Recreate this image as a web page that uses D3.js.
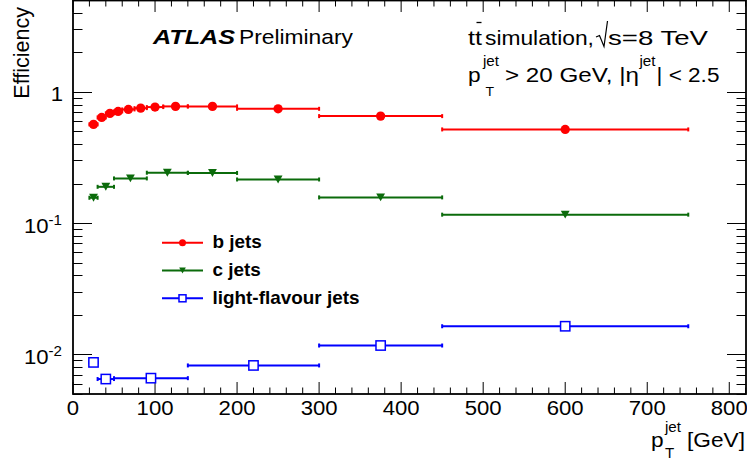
<html>
<head>
<meta charset="UTF-8">
<title>Tagging efficiency</title>
<style>
  body { margin: 0; background: #fff; }
  text { font-family: "Liberation Sans", Arial, Helvetica, sans-serif; fill: #000; }
</style>
</head>
<body>
<div id="chart"></div>
<script src="https://cdnjs.cloudflare.com/ajax/libs/d3/7.8.5/d3.min.js"></script>
<script>
// bin edges (GeV) and efficiencies
var bEdges = [20, 30, 40, 50, 60, 75, 90, 110, 140, 200, 300, 450, 750];
var bEff   = [0.565, 0.638, 0.685, 0.709, 0.734, 0.751, 0.765, 0.774, 0.774, 0.742, 0.653, 0.517];

var cEdges = [20, 30, 50, 90, 140, 200, 300, 450, 750];
var cEff   = [0.156, 0.189, 0.219, 0.242, 0.241, 0.215, 0.157, 0.116];

var lEdges = [20, 30, 50, 140, 300, 450, 750];
var lEff   = [0.0087, 0.0065, 0.0066, 0.00825, 0.0117, 0.0164];

var xTicks = [0, 100, 200, 300, 400, 500, 600, 700, 800];
var yTicks = [1, 0.1, 0.01];
var yTickLabels = [["1", ""], ["10", "-1"], ["10", "-2"]];

var legendNames = ["b jets", "c jets", "light-flavour jets"];

var W = 747, H = 463;
var sx = 1.08; // the picture is a little wider than tall

var svg = d3.select("#chart").append("svg")
    .attr("width", W)
    .attr("height", H);

var x = d3.scaleLinear().domain([0, 821.6]).range([73, 747]);
var y = d3.scaleLog().domain([0.005, 5]).range([394, 0]);

function txt(g, px, py, s, size, anchor) {
    return g.append("text")
        .attr("transform", "translate(" + px + "," + py + ") scale(" + sx + ",1)")
        .attr("text-anchor", anchor || "start")
        .style("font-size", size + "px")
        .text(s);
}

// text stretched sideways to the width seen in the picture
function txtFit(g, px, py, s, size, width) {
    var t = g.append("text")
        .attr("x", 0).attr("y", 0)
        .style("font-size", size + "px")
        .text(s);
    var len = t.node().getComputedTextLength();
    t.attr("transform", "translate(" + px + "," + py + ") scale(" + (width / len) + ",1)");
    return t;
}

function bins(edges, vals) {
    return vals.map(function(v, i) {
        return { lo: edges[i], hi: edges[i + 1], mid: (edges[i] + edges[i + 1]) / 2, v: v };
    });
}

// ticks
var tk = svg.append("g").attr("stroke", "#000").attr("stroke-width", 1);
d3.range(0, 821, 20).forEach(function(v) {
    var len = v % 100 == 0 ? 12 : 6.5;
    tk.append("line").attr("x1", x(v)).attr("x2", x(v)).attr("y1", 394).attr("y2", 394 - len);
    tk.append("line").attr("x1", x(v)).attr("x2", x(v)).attr("y1", 0).attr("y2", len);
});
[0.001, 0.01, 0.1, 1].forEach(function(dec) {
    for (var m = 1; m <= 9; m++) {
        var v = dec * m;
        if (v < 0.005 || v > 5) continue;
        var len = m == 1 ? 19 : 9.5;
        var yy = Math.round(y(v)) + 0.5;
        tk.append("line").attr("x1", 73).attr("x2", 73 + len).attr("y1", yy).attr("y2", yy);
        tk.append("line").attr("x1", 746).attr("x2", 746 - len).attr("y1", yy).attr("y2", yy);
    }
});

// frame
svg.append("rect")
    .attr("x", 73).attr("y", 0.5)
    .attr("width", 673).attr("height", 393.5)
    .attr("fill", "none")
    .attr("stroke", "#000")
    .attr("stroke-width", 1.8);

// tick labels
xTicks.forEach(function(v) {
    txt(svg, x(v), 415, String(v), 20.5, "middle");
});
yTicks.forEach(function(v, i) {
    var t = svg.append("text")
        .attr("transform", "translate(" + (i == 0 ? 63 : 62) + "," + (y(v) + 9.5) + ") scale(" + sx + ",1)")
        .attr("text-anchor", "end")
        .style("font-size", "20.5px");
    t.append("tspan").text(yTickLabels[i][0]);
    if (yTickLabels[i][1])
        t.append("tspan").attr("dy", -8).style("font-size", "14px").text(yTickLabels[i][1]);
});

// axis titles
svg.append("text")
    .attr("transform", "translate(29,7) rotate(-90)")
    .attr("text-anchor", "end")
    .style("font-size", "21.5px")
    .text("Efficiency");
txt(svg, 651, 447, "p", 21);
txt(svg, 665, 432, "jet", 14);
txt(svg, 665, 458, "T", 14);
txt(svg, 745, 447, "[GeV]", 21, "end");

// ATLAS label
txtFit(svg, 153, 43.5, "ATLAS", 20.5, 78).style("font-weight", "bold").style("font-style", "italic");
txtFit(svg, 239, 43.5, "Preliminary", 20.5, 114);

// top right text
txtFit(svg, 468, 44.5, "tt", 20.5, 14);
svg.append("line").attr("x1", 476.5).attr("x2", 481.5).attr("y1", 22.5).attr("y2", 22.5)
    .attr("stroke", "#000").attr("stroke-width", 1.3);
txtFit(svg, 485, 44.5, "simulation,", 20.5, 109);
svg.append("path")
    .attr("d", "M596,37 L599.5,35.5 L604,46.5 L607.5,21")
    .attr("fill", "none").attr("stroke", "#000").attr("stroke-width", 1.2);
txtFit(svg, 608, 44.5, "s=8 TeV", 20.5, 100);

txt(svg, 468, 81.5, "p", 21);
txt(svg, 483, 66, "jet", 14);
txt(svg, 485.5, 95.5, "T", 13);
txtFit(svg, 505, 81.5, "> 20 GeV, |\u03b7", 20.5, 134);
txt(svg, 639.5, 66, "jet", 14);
txtFit(svg, 656.5, 81.5, "| < 2.5", 20.5, 63);

// series
var series = [
    { name: legendNames[0], color: "#ff0000", marker: "circle", data: bins(bEdges, bEff) },
    { name: legendNames[1], color: "#0b6b0b", marker: "triangle", data: bins(cEdges, cEff) },
    { name: legendNames[2], color: "#0000ff", marker: "square", data: bins(lEdges, lEff) }
];

function drawMarker(g, kind, color, cx, cy, s) {
    if (kind == "circle") {
        g.append("circle").attr("cx", cx).attr("cy", cy).attr("r", s / 2).attr("fill", color);
    } else if (kind == "triangle") {
        var w = s * 0.95, h = s * 0.85;
        g.append("path")
            .attr("d", "M" + (cx - w / 2) + "," + (cy - h / 2) + " L" + (cx + w / 2) + "," + (cy - h / 2) + " L" + cx + "," + (cy + h / 2) + "Z")
            .attr("fill", color);
    } else {
        g.append("rect").attr("x", cx - s / 2).attr("y", cy - s / 2).attr("width", s).attr("height", s)
            .attr("fill", "#fff").attr("stroke", color).attr("stroke-width", 1.5);
    }
}

series.forEach(function(s) {
    var g = svg.append("g");
    s.data.forEach(function(d) {
        var yy = y(d.v);
        g.append("line").attr("x1", x(d.lo)).attr("x2", x(d.hi)).attr("y1", yy).attr("y2", yy)
            .attr("stroke", s.color).attr("stroke-width", 2);
        [d.lo, d.hi].forEach(function(e) {
            g.append("line").attr("x1", x(e)).attr("x2", x(e)).attr("y1", yy - 2).attr("y2", yy + 2)
                .attr("stroke", s.color).attr("stroke-width", 2);
        });
    });
    s.data.forEach(function(d) {
        drawMarker(g, s.marker, s.color, x(d.mid), y(d.v), 9.3);
    });
});

// legend
var legend = svg.append("g");
series.forEach(function(s, i) {
    var ly = 242.7 + i * 27.8;
    legend.append("line").attr("x1", 162).attr("x2", 203).attr("y1", ly).attr("y2", ly)
        .attr("stroke", s.color).attr("stroke-width", 2);
    drawMarker(legend, s.marker, s.color, 182.5, ly, 7);
    txt(legend, 212.5, ly + 5.5, s.name, 17.5).style("font-weight", "bold");
});
</script>
</body>
</html>
